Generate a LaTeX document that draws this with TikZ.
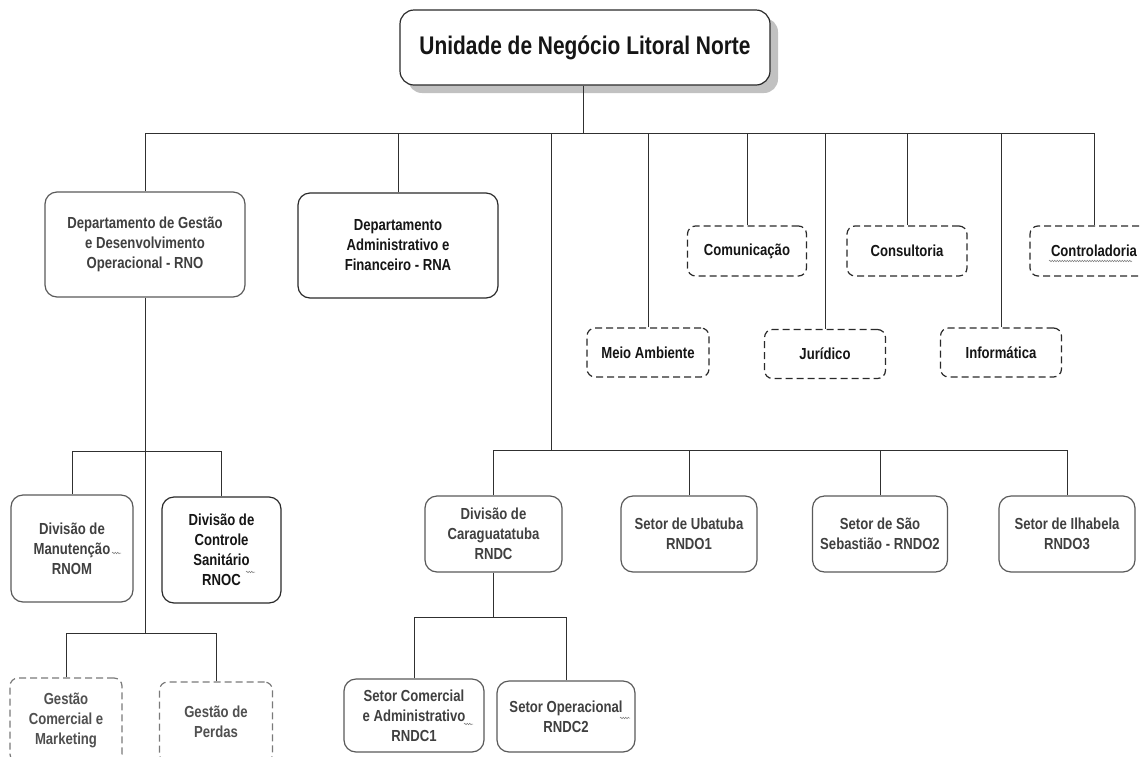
\documentclass[tikz,border=0pt]{standalone}
\usepackage{fontspec}
\setmainfont{Liberation Sans}[FakeStretch=0.82]
\usetikzlibrary{shadows,decorations.pathmorphing}

\definecolor{ink}{HTML}{151515}
\definecolor{softink}{HTML}{404040}
\definecolor{paleink}{HTML}{505050}
\definecolor{edge}{HTML}{2A2A2A}
\definecolor{softedge}{HTML}{5A5A5A}
\definecolor{paleedge}{HTML}{7A7A7A}
\definecolor{wire}{HTML}{303030}

\tikzset{
  unitbox/.style={draw=edge, line width=1.2pt, rounded corners=12pt, align=center,
    inner sep=2pt, text=ink, font=\bfseries\fontsize{16}{20}\selectfont},
  softbox/.style={unitbox, draw=softedge, text=softink},
  optbox/.style={unitbox, rounded corners=8pt, dash pattern=on 7pt off 4pt,
    minimum width=120pt, minimum height=50pt},
  paleopt/.style={optbox, draw=paleedge, text=paleink},
  wiring/.style={draw=wire, line width=1pt},
  squiggle/.style={draw=gray, line width=0.5pt,
    decorate, decoration={snake, amplitude=0.8pt, segment length=2.5pt}}
}

\begin{document}
\begin{tikzpicture}[x=1pt,y=-1pt]
\useasboundingbox (0,0) rectangle (1141,756);
\fill[white] (0,0) rectangle (1141,756);

% head office
\node[unitbox, rounded corners=14pt, minimum width=370pt, minimum height=75pt,
      font=\bfseries\fontsize{25.5}{30}\selectfont, fill=white,
      drop shadow={shadow xshift=8pt, shadow yshift=-8pt, fill=black!30, opacity=0.8}]
  (top) at (585,47.5) {Unidade de Negócio Litoral Norte};

% departments
\node[softbox, minimum width=200pt, minimum height=105pt] (rno) at (145,244.5)
  {Departamento de Gestão\\e Desenvolvimento\\Operacional - RNO};
\node[unitbox, minimum width=200pt, minimum height=105pt] (rna) at (398,245.5)
  {Departamento\\Administrativo e\\Financeiro - RNA};

% staff units
\node[optbox, minimum width=119pt] (com) at (747,251) {Comunicação};
\node[optbox] (cons) at (907,251) {Consultoria};
\node[optbox, minimum width=128pt] (ctrl) at (1094,251) {Controladoria};
\node[optbox, minimum width=122pt, minimum height=49pt] (meio) at (648,352.5) {Meio Ambiente};
\node[optbox, minimum width=121pt, minimum height=49pt] (jur) at (825,354) {Jurídico};
\node[optbox, minimum width=121pt, minimum height=49pt] (inf) at (1001,352.5) {Informática};

% divisions under RNO
\node[softbox, minimum width=122pt, minimum height=107pt] (rnom) at (72,548.5)
  {Divisão de\\Manutenção\\RNOM};
\node[unitbox, minimum width=119pt, minimum height=106pt] (rnoc) at (221.5,550)
  {Divisão de\\Controle\\Sanitário\\RNOC};
\node[paleopt, minimum width=112pt, minimum height=84pt] (gcm) at (66,720)
  {Gestão\\Comercial e\\Marketing};
\node[paleopt, minimum width=113pt, minimum height=80pt] (gper) at (216,722)
  {Gestão de\\Perdas};

% operating sectors
\node[softbox, minimum width=137pt, minimum height=76pt] (rndc) at (493.5,534)
  {Divisão de\\Caraguatatuba\\RNDC};
\node[softbox, minimum width=136pt, minimum height=76pt] (ubt) at (689,534)
  {Setor de Ubatuba\\RNDO1};
\node[softbox, minimum width=135pt, minimum height=76pt] (ssb) at (880,534)
  {Setor de São\\Sebastião - RNDO2};
\node[softbox, minimum width=136pt, minimum height=76pt] (ilh) at (1067,534)
  {Setor de Ilhabela\\RNDO3};
\node[softbox, minimum width=140pt, minimum height=73pt] (rndc1) at (414,715.5)
  {Setor Comercial\\e Administrativo\\RNDC1};
\node[softbox, minimum width=138pt, minimum height=71pt] (rndc2) at (566,716.5)
  {Setor Operacional\\RNDC2};

% bus levels
\coordinate (bus) at (583,133);
\coordinate (opbus) at (551,450);
\coordinate (rnobus) at (145,451);
\coordinate (rnobus2) at (145,633);
\coordinate (rndcbus) at (493.5,617);

% head office to its units
\draw[wiring] (top.south -| bus) -- (bus);
\foreach \n in {rno,rna,meio,com,jur,cons,inf,ctrl}
  \draw[wiring] (\n.north) |- (bus);
\draw[wiring] (bus -| opbus) -- (opbus);

% operating sectors
\foreach \n in {rndc,ubt,ssb,ilh}
  \draw[wiring] (\n.north) |- (opbus);

% RNO branches
\draw[wiring] (rno.south) -- (rnobus2);
\foreach \n in {rnom,rnoc}
  \draw[wiring] (\n.north) |- (rnobus);
\foreach \n in {gcm,gper}
  \draw[wiring] (\n.north) |- (rnobus2);

% RNDC branches
\draw[wiring] (rndc.south) -- (rndcbus);
\foreach \n in {rndc1,rndc2}
  \draw[wiring] (\n.north) |- (rndcbus);

% proofing marks
\draw[squiggle] (112,553) -- (121,553);
\draw[squiggle] (246,572) -- (255,572);
\draw[squiggle] (464,724) -- (473,724);
\draw[squiggle] (620,718) -- (630,718);
\draw[squiggle] (1049,261) -- (1132,261);
\end{tikzpicture}
\end{document}
